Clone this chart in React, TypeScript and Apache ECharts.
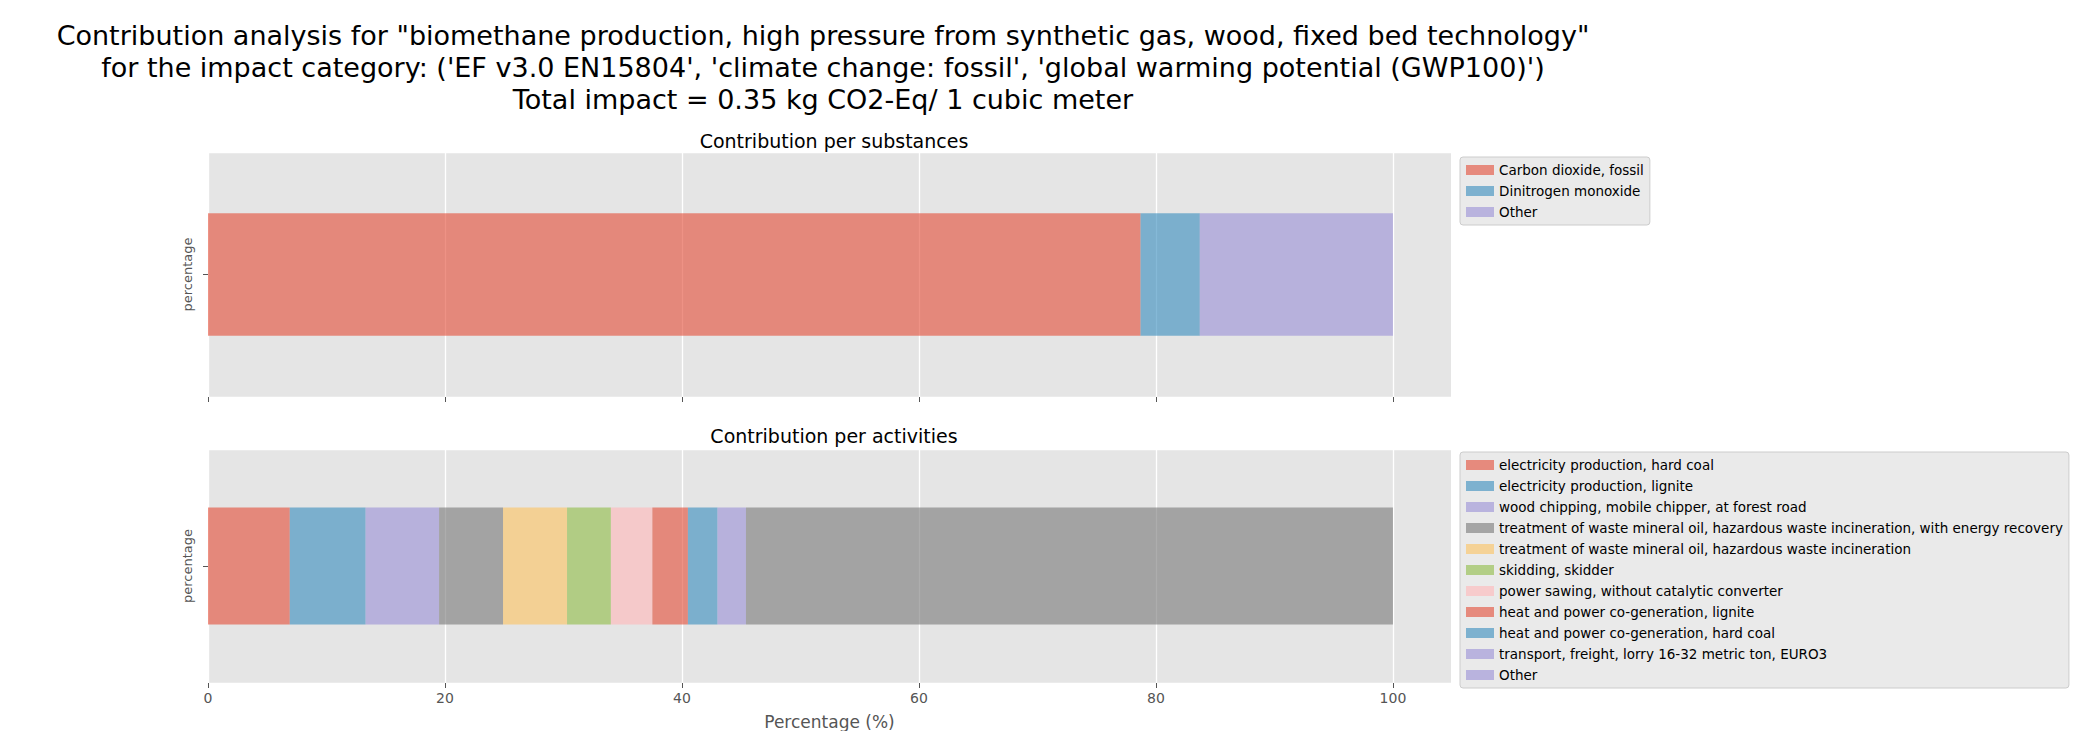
import React, { useEffect, useRef } from "react";
import * as echarts from "echarts";

const substanceNames = ["Carbon dioxide, fossil", "Dinitrogen monoxide", "Other"];
const substanceValues = [78.7, 5.0, 16.3];
const activityNames = [
  "electricity production, hard coal",
  "electricity production, lignite",
  "wood chipping, mobile chipper, at forest road",
  "treatment of waste mineral oil, hazardous waste incineration, with energy recovery",
  "treatment of waste mineral oil, hazardous waste incineration",
  "skidding, skidder",
  "power sawing, without catalytic converter",
  "heat and power co-generation, lignite",
  "heat and power co-generation, hard coal",
  "transport, freight, lorry 16-32 metric ton, EURO3",
  "Other",
];
const activityValues = [6.9, 6.4, 6.2, 5.4, 5.4, 3.7, 3.5, 3.0, 2.5, 2.4, 54.6];
const xTicks = [0, 20, 40, 60, 80, 100];

const palette = ["#E24A33", "#348ABD", "#988ED5", "#777777", "#FBC15E", "#8EBA42", "#FFB5B8"];
const rgba = (hex: string, a: number) => {
  const n = parseInt(hex.slice(1), 16);
  return `rgba(${(n >> 16) & 255},${(n >> 8) & 255},${n & 255},${a})`;
};

export default function App() {
  const ref = useRef<HTMLDivElement>(null);
  useEffect(() => {
    const chart = echarts.init(ref.current!, null, { renderer: "svg" });
    const font = "DejaVu Sans";
    const grids = [
      { left: 200, width: 1243, top: 144, height: 245 },
      { left: 200, width: 1243, top: 441, height: 243 },
    ];
    const xAxis = grids.map((_, i) => ({
      type: "value",
      gridIndex: i,
      min: -0.001,
      max: 104.9,
      interval: 20,
      customValues: xTicks,
      axisLine: { show: false },
      axisTick: { show: true, length: 5, lineStyle: { color: "#555" }, customValues: xTicks },
      axisLabel: { show: i === 1, color: "#555", fontSize: 14, fontFamily: font, margin: 8, customValues: xTicks },
      splitLine: { show: true, lineStyle: { color: "#fff", width: 1.3 } },
      name: i === 1 ? "Percentage (%)" : "",
      nameLocation: "middle",
      nameGap: 30,
      nameTextStyle: { color: "#555", fontSize: 17, fontFamily: font },
    }));
    const yAxis = grids.map((_, i) => ({
      type: "category",
      gridIndex: i,
      data: ["percentage"],
      axisLine: { show: false },
      axisTick: { show: true, length: 5, lineStyle: { color: "#555" }, alignWithLabel: true },
      axisLabel: { show: false },
      splitLine: { show: true, lineStyle: { color: "#fff", width: 1.3 } },
      name: "percentage",
      nameLocation: "middle",
      nameGap: 14,
      nameRotate: 90,
      nameTextStyle: { color: "#555", fontSize: 13, fontFamily: font },
    }));
    const mk = (names: string[], vals: number[], idx: number) =>
      names.map((n, k) => ({
        type: "bar",
        name: n,
        stack: "s" + idx,
        xAxisIndex: idx,
        yAxisIndex: idx,
        barWidth: "50%",
        data: [vals[k]],
        itemStyle: { color: rgba(palette[k % palette.length], 0.6) },
      }));
    const legendBase = {
      orient: "vertical",
      left: 1452,
      itemWidth: 28,
      itemHeight: 10,
      itemGap: 7,
      padding: [6, 6, 6, 6],
      icon: "rect",
      backgroundColor: "rgba(229,229,229,0.8)",
      borderColor: "#cccccc",
      borderWidth: 1,
      borderRadius: 3,
      textStyle: { fontSize: 13.5, fontFamily: font, color: "#000" },
      selectedMode: false,
    };
    chart.setOption({
      animation: false,
      backgroundColor: "#fff",
      title: [
        {
          text:
            'Contribution analysis for "biomethane production, high pressure from synthetic gas, wood, fixed bed technology"\nfor the impact category: (\'EF v3.0 EN15804\', \'climate change: fossil\', \'global warming potential (GWP100)\')\nTotal impact = 0.35 kg CO2-Eq/ 1 cubic meter',
          left: 810,
          top: 6,
          textAlign: "center",
          textStyle: { fontSize: 27, fontWeight: "normal", fontFamily: font, color: "#000", lineHeight: 32, align: "center" },
        },
        { text: "Contribution per substances", left: 821, top: 118, textAlign: "center", textStyle: { fontSize: 19, fontWeight: "normal", fontFamily: font, color: "#000" } },
        { text: "Contribution per activities", left: 821, top: 413, textAlign: "center", textStyle: { fontSize: 19, fontWeight: "normal", fontFamily: font, color: "#000" } },
      ],
      grid: grids.map((g) => ({ ...g, show: true, backgroundColor: "#e5e5e5", borderWidth: 0 })),
      xAxis,
      yAxis,
      legend: [
        { ...legendBase, top: 149, data: substanceNames },
        { ...legendBase, top: 444, data: activityNames },
      ],
      series: [...mk(substanceNames, substanceValues, 0), ...mk(activityNames, activityValues, 1)],
    });
    return () => chart.dispose();
  }, []);
  return <div ref={ref} style={{ width: 2069, height: 723 }} />;
}
